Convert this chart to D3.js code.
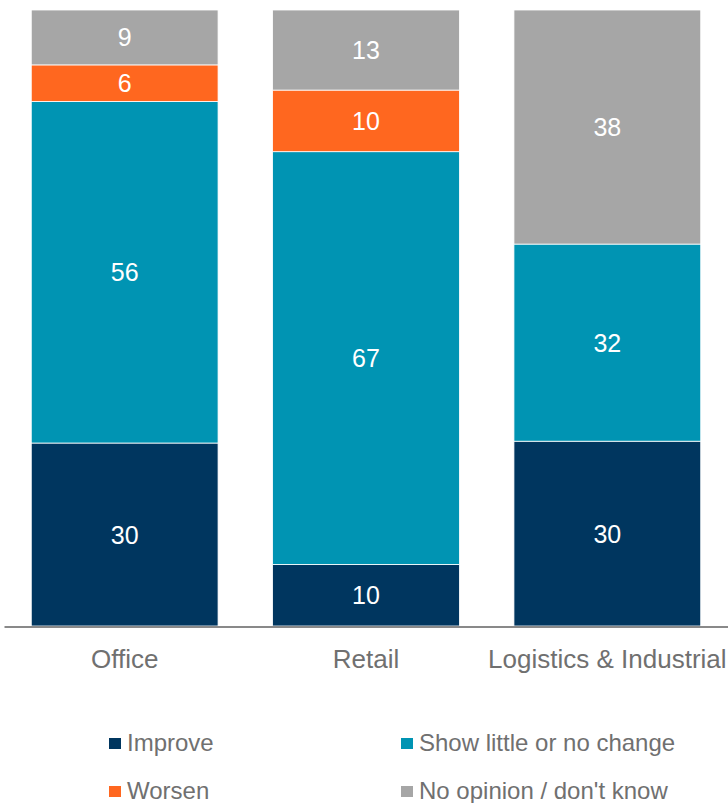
<!DOCTYPE html>
<html lang="en">
<head>
<meta charset="UTF-8">
<title>Outlook by sector</title>
<script src="https://cdn.jsdelivr.net/npm/d3@7"></script>
<style>
    body { margin: 0; background: #fff; }
    #chart { width: 728px; height: 803px; }
    text { font-family: "Liberation Sans", Arial, sans-serif; }
</style>
</head>
<body>
<div id="chart"></div>
<script>
    // data
    const categories = ["Office", "Retail", "Logistics & Industrial"];
    const seriesNames = ["Improve", "Show little or no change", "Worsen", "No opinion / don't know"];
    const improve = [30, 10, 30];
    const noChange = [56, 67, 32];
    const worsen = [6, 10, 0];
    const noOpinion = [9, 13, 38];
    const colors = ["#00365f", "#0094b3", "#ff671f", "#a6a6a6"];

    const W = 728, H = 803;
    const baseY = 626, topY = 10;

    const rows = categories.map((c, i) => ({
        cat: c,
        "Improve": improve[i],
        "Show little or no change": noChange[i],
        "Worsen": worsen[i],
        "No opinion / don't know": noOpinion[i]
    }));

    const stack = d3.stack().keys(seriesNames).offset(d3.stackOffsetExpand);
    const layers = stack(rows);

    const x = d3.scaleBand().domain(categories).range([4, 728]).paddingInner(0.226).paddingOuter(0.113);
    const y = d3.scaleLinear().domain([0, 1]).range([baseY, topY]);
    const color = d3.scaleOrdinal().domain(seriesNames).range(colors);

    const svg = d3.select("#chart").append("svg")
        .attr("width", W).attr("height", H)
        .attr("viewBox", [0, 0, W, H]);

    const groups = svg.selectAll("g.layer")
        .data(layers)
        .join("g")
        .classed("layer", true)
        .attr("fill", d => color(d.key));

    groups.selectAll("rect")
        .data(d => d)
        .join("rect")
        .attr("x", d => x(d.data.cat))
        .attr("width", x.bandwidth())
        .attr("y", d => y(d[1]))
        .attr("height", d => y(d[0]) - y(d[1]))
        .attr("stroke", "#fff")
        .attr("stroke-width", 0.8);

    // value labels
    groups.selectAll("text")
        .data(d => d.map(s => ({ s: s, key: d.key })))
        .join("text")
        .filter(d => d.s.data[d.key] > 0)
        .attr("x", d => x(d.s.data.cat) + x.bandwidth() / 2)
        .attr("y", d => (y(d.s[0]) + y(d.s[1])) / 2)
        .attr("dy", "0.36em")
        .attr("text-anchor", "middle")
        .attr("fill", "#fff")
        .attr("font-size", 25)
        .text(d => d.s.data[d.key]);

    // category axis
    const axis = svg.append("g")
        .attr("transform", `translate(0,${baseY + 0.5})`)
        .call(d3.axisBottom(x).tickSize(0).tickPadding(0));
    axis.select(".domain").attr("stroke", "#898989").attr("stroke-width", 2);
    axis.selectAll("text")
        .attr("dy", 0)
        .attr("y", 41)
        .attr("fill", "#707070")
        .attr("font-size", 26)
        .attr("font-family", "'Liberation Sans', Arial, sans-serif");

    // legend, 2 columns
    const legendPos = [[109, 751], [401, 751], [109, 799], [401, 799]];
    const legend = svg.append("g").selectAll("g")
        .data(seriesNames)
        .join("g")
        .attr("transform", (d, i) => `translate(${legendPos[i][0]},${legendPos[i][1]})`);
    legend.append("rect")
        .attr("x", 0).attr("y", -13)
        .attr("width", 12).attr("height", 11)
        .attr("fill", d => color(d));
    legend.append("text")
        .attr("x", 18).attr("y", 0)
        .attr("fill", "#707070")
        .attr("font-size", 24)
        .text(d => d);
</script>
</body>
</html>
